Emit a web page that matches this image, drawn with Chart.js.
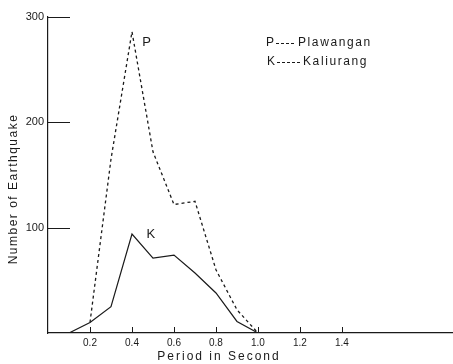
<!DOCTYPE html>
<html>
<head>
<meta charset="utf-8">
<script src="https://cdn.jsdelivr.net/npm/chart.js@4/dist/chart.umd.min.js"></script>
<style>
  html, body { margin: 0; padding: 0; background: #fff; }
  #wrap { width: 453px; height: 364px; }
</style>
</head>
<body>
<div id="wrap"><canvas id="quakeChart" width="453" height="364"></canvas></div>
<script>
// period (s) and number of earthquakes per station
const periodsP = [0.2, 0.3, 0.4, 0.5, 0.6, 0.7, 0.8, 0.9, 1.0];
const plawangan = [10, 165, 286, 172, 122, 125, 60, 22, 0];

const periodsK = [0, 0.1, 0.2, 0.3, 0.4, 0.5, 0.6, 0.7, 0.8, 0.9, 1.0];
const kaliurang = [0, 0, 10, 25, 94, 71, 74, 57, 38, 11, 0];

const xTicks = [0.2, 0.4, 0.6, 0.8, 1.0, 1.2, 1.4];
const yTicks = [100, 200, 300];

const ink = '#1a1a1a';
const font = 'Liberation Sans, Arial, sans-serif';

function toPoints(xs, ys) {
    return xs.map((x, i) => ({ x: x, y: ys[i] }));
}

// tick marks drawn inside the plot, axis titles, curve letters and the key
const decorations = {
    id: 'decorations',
    afterDraw(chart) {
        const ctx = chart.ctx;
        const xs = chart.scales.x;
        const ys = chart.scales.y;
        const area = chart.chartArea;

        ctx.save();
        ctx.strokeStyle = ink;
        ctx.lineWidth = 1;
        yTicks.forEach(v => {
            const py = Math.round(ys.getPixelForValue(v)) + 0.5;
            ctx.beginPath();
            ctx.moveTo(area.left, py);
            ctx.lineTo(area.left + 22, py);
            ctx.stroke();
        });
        xTicks.forEach(v => {
            const px = Math.round(xs.getPixelForValue(v)) + 0.5;
            ctx.beginPath();
            ctx.moveTo(px, area.bottom);
            ctx.lineTo(px, area.bottom - 6);
            ctx.stroke();
        });

        ctx.fillStyle = ink;
        ctx.textBaseline = 'middle';
        ctx.textAlign = 'center';
        ctx.font = '12px ' + font;
        ctx.letterSpacing = '2px';
        ctx.fillText('Period in Second', 219, 357);

        ctx.save();
        ctx.translate(14, 189);
        ctx.rotate(-Math.PI / 2);
        ctx.letterSpacing = '1.5px';
        ctx.fillText('Number of Earthquake', 0, 0);
        ctx.restore();

        ctx.letterSpacing = '0px';
        ctx.font = '13px ' + font;
        ctx.fillText('P', xs.getPixelForValue(0.47), ys.getPixelForValue(276));
        ctx.fillText('K', xs.getPixelForValue(0.49), ys.getPixelForValue(94));

        // key
        ctx.textAlign = 'left';
        ctx.font = '12px ' + font;
        ctx.fillText('P', 266, 43);
        ctx.fillText('K', 267, 62);
        ctx.letterSpacing = '1.6px';
        ctx.fillText('Plawangan', 298, 43);
        ctx.fillText('Kaliurang', 303, 62);
        ctx.setLineDash([3, 2]);
        ctx.beginPath();
        ctx.moveTo(276, 43.5);
        ctx.lineTo(296, 43.5);
        ctx.moveTo(277, 62.5);
        ctx.lineTo(301, 62.5);
        ctx.stroke();
        ctx.restore();
    }
};

const ctx = document.getElementById('quakeChart').getContext('2d');

new Chart(ctx, {
    type: 'line',
    data: {
        datasets: [{
            label: 'Plawangan',
            data: toPoints(periodsP, plawangan),
            borderColor: ink,
            borderWidth: 1.3,
            borderDash: [3, 3],
            pointRadius: 0,
            fill: false,
            tension: 0
        }, {
            label: 'Kaliurang',
            data: toPoints(periodsK, kaliurang),
            borderColor: ink,
            borderWidth: 1.2,
            pointRadius: 0,
            fill: false,
            tension: 0
        }]
    },
    plugins: [decorations],
    options: {
        responsive: false,
        animation: false,
        layout: { padding: { top: 17, right: 1, left: 0, bottom: 0 } },
        plugins: {
            legend: { display: false },
            tooltip: { enabled: false }
        },
        scales: {
            x: {
                type: 'linear',
                min: 0,
                max: 1.924,
                afterFit: scale => { scale.height = 31; },
                afterBuildTicks: scale => { scale.ticks = xTicks.map(v => ({ value: v })); },
                border: { display: true, color: ink, width: 1.2 },
                grid: { display: false, drawTicks: false },
                ticks: {
                    padding: 4,
                    color: ink,
                    font: { family: font, size: 10 },
                    maxRotation: 0,
                    callback: v => v.toFixed(1)
                }
            },
            y: {
                min: 0,
                max: 300,
                afterFit: scale => { scale.width = 48; },
                afterBuildTicks: scale => { scale.ticks = yTicks.map(v => ({ value: v })); },
                border: { display: true, color: ink, width: 1.2 },
                grid: { display: false, drawTicks: false },
                ticks: {
                    padding: 4,
                    color: ink,
                    font: { family: font, size: 11 }
                }
            }
        }
    }
});
</script>
</body>
</html>
